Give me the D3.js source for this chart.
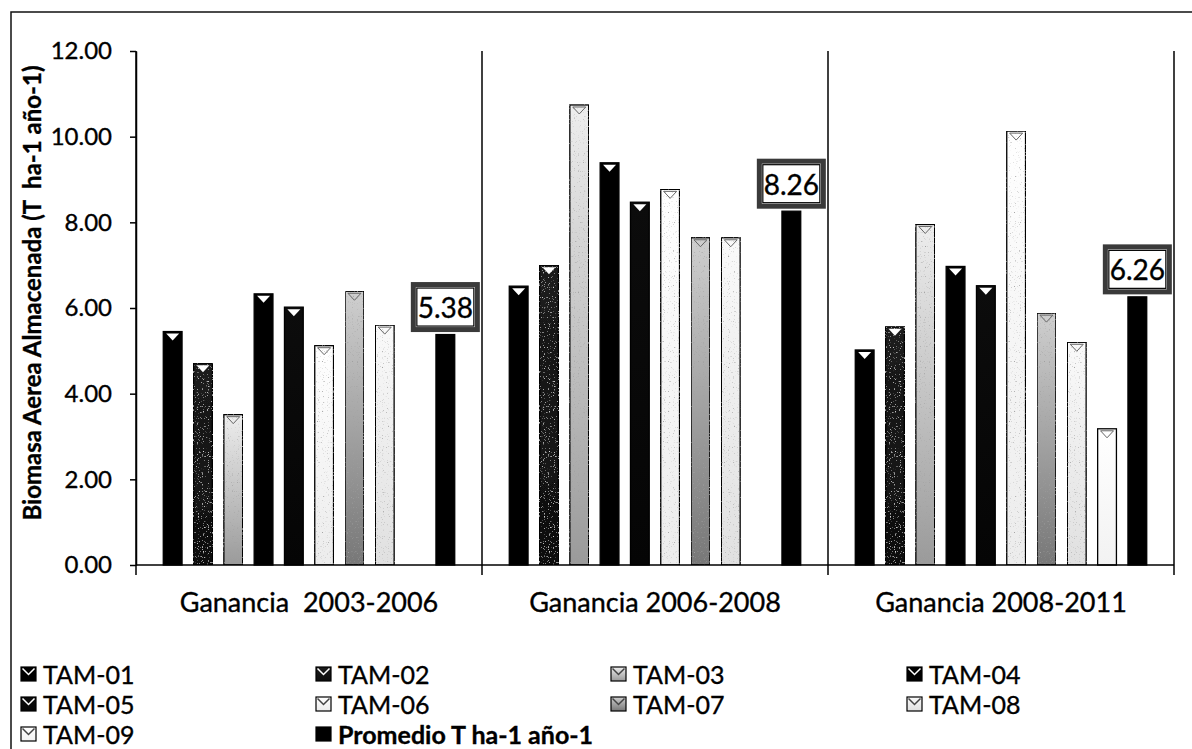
<!DOCTYPE html>
<html>
<head>
<meta charset="utf-8">
<script src="https://cdn.jsdelivr.net/npm/d3@7"></script>
<style>
  body { margin: 0; background: #fff; }
  svg { display: block; }
  text { font-family: Lato, "Liberation Sans", sans-serif; fill: #000; stroke: #000; stroke-width: 0.35px; }
</style>
</head>
<body>
<svg id="chart" width="1192" height="749"></svg>
<script>
// Biomass gain per plot and period (T ha-1 año-1)
const categories = ["Ganancia  2003-2006", "Ganancia 2006-2008", "Ganancia 2008-2011"];
const seriesNames = ["TAM-01", "TAM-02", "TAM-03", "TAM-04", "TAM-05",
                     "TAM-06", "TAM-07", "TAM-08", "TAM-09", "Promedio T ha-1 año-1"];
const tam01 = [5.45, 6.51, 5.02];
const tam02 = [4.71, 7.00, 5.56];
const tam03 = [3.51, 10.74, 7.95];
const tam04 = [6.33, 9.39, 6.97];
const tam05 = [6.02, 8.47, 6.52];
const tam06 = [5.12, 8.77, 10.13];
const tam07 = [6.39, 7.64, 5.88];
const tam08 = [5.60, 7.64, 5.20];
const tam09 = [null, null, 3.18];
const promedio = [5.38, 8.26, 6.26];
const yTicks = [0, 2, 4, 6, 8, 10, 12];

const seriesValues = [tam01, tam02, tam03, tam04, tam05, tam06, tam07, tam08, tam09, promedio];

// fill look of each series: [gradient top, gradient bottom, notch type, grain]
const looks = [
  ["#000000", "#000000", "white", null],
  ["#1c1c1c", "#0e0e0e", "white", "light"],
  ["#eeeeee", "#9a9a9a", "faint", "dark"],
  ["#000000", "#000000", "white", null],
  ["#0c0c0c", "#050505", "white", null],
  ["#ffffff", "#ececec", "faint", "dark"],
  ["#cfcfcf", "#777777", "faint", "dark"],
  ["#fafafa", "#e0e0e0", "faint", "dark"],
  ["#ffffff", "#f2f2f2", "faint", null],
  ["#000000", "#000000", "none", null]
];

const svg = d3.select("#chart");
const plot = { left: 136, right: 1174, top: 51, bottom: 565 };

const defs = svg.append("defs");
looks.forEach((l, i) => {
  const g = defs.append("linearGradient").attr("id", "fill" + i)
    .attr("x1", 0).attr("y1", 0).attr("x2", 0).attr("y2", 1);
  g.append("stop").attr("offset", "0%").attr("stop-color", l[0]);
  g.append("stop").attr("offset", "100%").attr("stop-color", l[1]);
});

// sparse speckle used on the shaded bars
function speckle(id, tone) {
  const f = defs.append("filter").attr("id", id)
    .attr("x", 0).attr("y", 0).attr("width", 1).attr("height", 1);
  f.append("feTurbulence").attr("type", "fractalNoise")
    .attr("baseFrequency", 0.8).attr("numOctaves", 1).attr("seed", 7).attr("result", "noise");
  f.append("feColorMatrix").attr("in", "noise").attr("type", "matrix")
    .attr("values", `0 0 0 0 ${tone}  0 0 0 0 ${tone}  0 0 0 0 ${tone}  5 0 0 0 -3.1`)
    .attr("result", "dots");
  f.append("feComposite").attr("in", "dots").attr("in2", "SourceGraphic")
    .attr("operator", "in").attr("result", "clipped");
  const m = f.append("feMerge");
  m.append("feMergeNode").attr("in", "SourceGraphic");
  m.append("feMergeNode").attr("in", "clipped");
}
speckle("grain-dark", 0.35);
speckle("grain-light", 0.75);

// outer chart frame
svg.append("rect")
  .attr("x", 11).attr("y", 12).attr("width", 1300).attr("height", 900)
  .attr("fill", "none").attr("stroke", "#111").attr("stroke-width", 1.5);

const y = d3.scaleLinear().domain([0, 12]).range([plot.bottom, plot.top]);
const x0 = d3.scaleBand().domain(categories).range([plot.left, plot.right]).padding(0);
const x1 = d3.scaleBand().domain(seriesNames).range([0, x0.bandwidth()])
  .paddingInner(0.38).paddingOuter(0.9);

// group separators
const bounds = categories.map(c => x0(c)).concat([plot.right]);
svg.append("g").selectAll("line").data(bounds).join("line")
  .attr("x1", d => d).attr("x2", d => d)
  .attr("y1", plot.top).attr("y2", plot.bottom + 10)
  .attr("stroke", "#000").attr("stroke-width", 1.5);

// bars
const groups = svg.append("g").selectAll("g").data(categories).join("g")
  .attr("transform", c => `translate(${x0(c)},0)`);

groups.each(function (c, ci) {
  const g = d3.select(this);
  const rows = seriesNames.map((s, si) => ({ s, si, v: seriesValues[si][ci] }))
    .filter(d => d.v !== null);
  g.selectAll("rect.bar").data(rows).join("rect").attr("class", "bar")
    .attr("x", d => x1(d.s)).attr("width", x1.bandwidth())
    .attr("y", d => y(d.v)).attr("height", d => y(0) - y(d.v))
    .attr("fill", d => `url(#fill${d.si})`)
    .attr("filter", d => (looks[d.si][3] ? `url(#grain-${looks[d.si][3]})` : null))
    .attr("stroke", "#000").attr("stroke-width", 1.3);
  // bevel notch at the top of each bar
  const bw = x1.bandwidth();
  g.selectAll("path.notch").data(rows.filter(d => looks[d.si][2] !== "none")).join("path")
    .attr("class", "notch")
    .attr("d", d => {
      const cx = x1(d.s) + bw / 2, t = y(d.v) + 2;
      return `M${cx - 6.5},${t}L${cx + 6.5},${t}L${cx},${t + 7}Z`;
    })
    .attr("fill", d => (looks[d.si][2] === "white" ? "#fff" : "none"))
    .attr("stroke", d => (looks[d.si][2] === "white" ? "none" : "#666"))
    .attr("stroke-width", 1);
});

// y axis
const yAxis = svg.append("g").attr("transform", `translate(${plot.left},0)`)
  .call(d3.axisLeft(y).tickValues(yTicks).tickFormat(d3.format(".2f"))
    .tickSize(6).tickSizeOuter(0).tickPadding(18));
yAxis.select(".domain").attr("stroke", "#000").attr("stroke-width", 1.5);
yAxis.selectAll(".tick line").attr("stroke", "#000").attr("stroke-width", 1.5);
yAxis.selectAll(".tick text").attr("font-size", 24).attr("font-family", "Lato").attr("fill", "#000");

// baseline
svg.append("line").attr("x1", plot.left).attr("x2", plot.right)
  .attr("y1", y(0)).attr("y2", y(0)).attr("stroke", "#000").attr("stroke-width", 1.5);

// category labels
const xAxis = svg.append("g").attr("transform", `translate(0,${plot.bottom})`)
  .call(d3.axisBottom(x0).tickSize(0).tickPadding(28));
xAxis.select(".domain").remove();
xAxis.selectAll(".tick text").attr("font-size", 27).attr("font-family", "Lato")
  .attr("fill", "#000").style("white-space", "pre");

// y axis title
svg.append("text")
  .attr("transform", "translate(41,293) rotate(-90)")
  .attr("text-anchor", "middle")
  .attr("font-size", 24).attr("font-weight", "bold")
  .style("white-space", "pre")
  .text("Biomasa Aerea Almacenada (T  ha-1 año-1)");

// value labels over the average bars
const boxW = 64, boxH = 45;
categories.forEach((c, ci) => {
  const v = promedio[ci];
  const cx = x0(c) + x1(seriesNames[9]) + x1.bandwidth() / 2;
  const bottom = y(v) - 5;
  const g = svg.append("g");
  g.append("rect").attr("x", cx - boxW / 2).attr("y", bottom - boxH)
    .attr("width", boxW).attr("height", boxH)
    .attr("fill", "#fff").attr("stroke", "#3a3a3a").attr("stroke-width", 5);
  g.append("rect").attr("x", cx - boxW / 2 + 3.5).attr("y", bottom - boxH + 3.5)
    .attr("width", boxW - 7).attr("height", boxH - 7)
    .attr("fill", "#fff").attr("stroke", "#000").attr("stroke-width", 1.2);
  g.append("text").attr("x", cx).attr("y", bottom - boxH / 2)
    .attr("text-anchor", "middle").attr("dominant-baseline", "central")
    .attr("font-size", 28).text(d3.format(".2f")(v));
});

// legend
const colX = [21, 316, 611, 907];
const rowY = [674, 704, 734];
const legend = svg.append("g").selectAll("g").data(seriesNames).join("g")
  .attr("transform", (d, i) => `translate(${colX[i % 4]},${rowY[Math.floor(i / 4)]})`);
legend.append("rect").attr("x", 0).attr("y", -7).attr("width", 15).attr("height", 14)
  .attr("fill", (d, i) => `url(#fill${i})`).attr("stroke", "#000").attr("stroke-width", 1.2);
legend.filter((d, i) => i !== 9).append("path")
  .attr("d", "M1.5,-5.5L7.5,0.5L13.5,-5.5")
  .attr("fill", "none")
  .attr("stroke", (d, i) => (looks[i][2] === "white" ? "#fff" : "#444"))
  .attr("stroke-width", 1.5);
legend.append("text").attr("x", 22).attr("y", 0).attr("dominant-baseline", "central")
  .attr("font-size", 25)
  .attr("font-weight", (d, i) => (i === 9 ? "bold" : "normal"))
  .text(d => d);
</script>
</body>
</html>
